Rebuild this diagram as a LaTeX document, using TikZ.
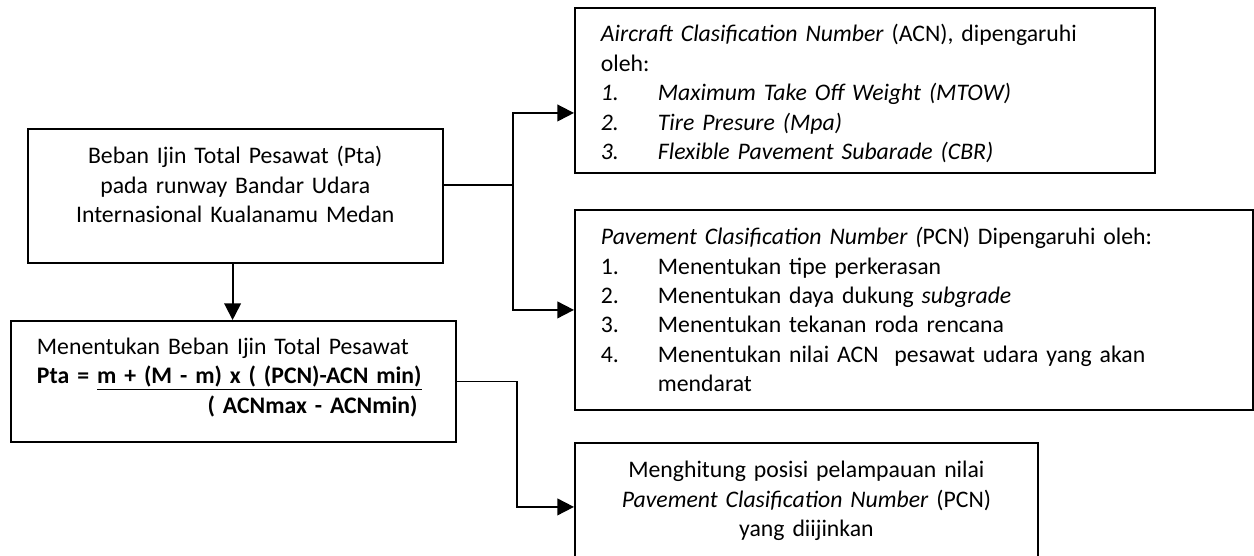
\documentclass[tikz,border=0pt]{standalone}
\usepackage{fontspec}
\setmainfont{Carlito}
\usetikzlibrary{arrows.meta}

\newcommand{\butir}[2]{\makebox[42.75pt][l]{#1}#2}
\newsavebox{\barisrumus}

\begin{document}
\begin{tikzpicture}[
    x=0.75pt, y=-0.75pt,
    kotak/.style={
        draw=black,
        line width=1.4pt,
        anchor=north west,
        inner xsep=19.5pt,
        inner ysep=0pt,
        text height=26pt,
        font=\fontsize{17.8pt}{22.1pt}\selectfont
    },
    garis/.style={line width=1.4pt, draw=black},
    panah/.style={garis, -{Triangle[length=12.5pt, width=12.5pt]}}
]
    \useasboundingbox (0,0) rectangle (1254,556);

    \node[kotak, text width=272pt, text depth=74.5pt, align=center] (beban) at (27,128)
        {Beban Ijin Total Pesawat (Pta)\\pada runway Bandar Udara\\Internasional Kualanamu Medan};

    \node[kotak, text width=294.75pt, text height=25pt, text depth=65.75pt, align=left] (rumus) at (10,320)
        {Menentukan Beban Ijin Total Pesawat\\
         \sbox{\barisrumus}{\textbf{Pta = \underline{m + (M - m) x ( (PCN)-ACN min)}}}%
         \usebox{\barisrumus}\\
         \makebox[\wd\barisrumus][r]{\textbf{( ACNmax - ACNmin)}\hspace{3pt}}};

    \node[kotak, text width=396pt, text height=25.5pt, text depth=98.25pt, align=left] (acn) at (574,7)
        {\textit{Aircraft Clasification Number} (ACN), dipengaruhi\\
         oleh:\\
         \butir{\textit{1.}}{\textit{Maximum Take Off Weight (MTOW)}}\\
         \butir{\textit{2.}}{\textit{Tire Presure (Mpa)}}\\
         \butir{\textit{3.}}{\textit{Flexible Pavement Subarade (CBR)}}};

    \node[kotak, text width=469.5pt, text depth=124pt, align=left] (pcn) at (574,209)
        {\textit{Pavement Clasification Number (}PCN) Dipengaruhi oleh:\\
         \butir{1.}{Menentukan tipe perkerasan}\\
         \butir{2.}{Menentukan daya dukung \textit{subgrade}}\\
         \butir{3.}{Menentukan tekanan roda rencana}\\
         \butir{4.}{\mbox{Menentukan nilai ACN\ \ pesawat udara yang akan}}\\
         \hspace*{42.75pt}mendarat};

    \node[kotak, text width=308.25pt, text depth=70pt, align=center] (akhir) at (574,442)
        {Menghitung posisi pelampauan nilai\\
         \textit{Pavement Clasification Number} (PCN)\\
         yang diijinkan};

    % cabang ke ACN dan PCN
    \coordinate (cabang) at (513,185);
    \draw[garis] (beban.east |- cabang) -- (cabang);
    \draw[panah] (cabang) |- ([yshift=-16.9pt]acn.west);
    \draw[panah] (cabang) |- (pcn.west);

    \draw[panah] ([xshift=-2pt]beban.south) -- ([xshift=-2pt]beban.south |- rumus.north);
    \draw[panah] (rumus.east) -- ++(60,0) |- (akhir.west);
\end{tikzpicture}
\end{document}
